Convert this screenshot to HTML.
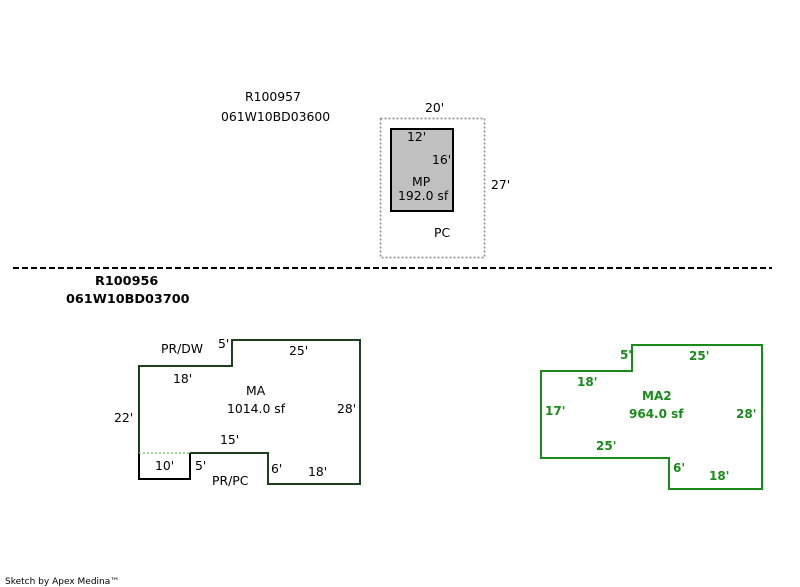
<!DOCTYPE html>
<html><head><meta charset="utf-8"><style>
html,body{margin:0;padding:0;background:#fff;width:800px;height:587px;overflow:hidden}
svg text{font-family:"DejaVu Sans","Liberation Sans",sans-serif;font-size:12.4px}
.g{fill:#1a8a1a;font-weight:bold;font-size:12px !important}
.b{font-weight:bold;font-size:12.8px !important}
</style></head><body>
<svg width="800" height="587" viewBox="0 0 800 587" xmlns="http://www.w3.org/2000/svg">
<text x="245" y="101">R100957</text>
<text x="221" y="121">061W10BD03600</text>
<rect x="380.5" y="118.5" width="104" height="139" fill="none" stroke="#888" stroke-width="1.5" stroke-dasharray="2,2"/>
<rect x="391" y="129" width="62" height="82" fill="#c0c0c0" stroke="#000" stroke-width="2"/>
<text x="425" y="112">20'</text>
<text x="407" y="141">12'</text>
<text x="432" y="164">16'</text>
<text x="412" y="186">MP</text>
<text x="398" y="200">192.0 sf</text>
<text x="491" y="189">27'</text>
<text x="434" y="237">PC</text>
<line x1="13" y1="268" x2="772" y2="268" stroke="#000" stroke-width="2" stroke-dasharray="6,3"/>
<text x="95" y="285" class="b">R100956</text>
<text x="66" y="303" class="b">061W10BD03700</text>
<polyline points="190,453 268,453 268,484 360,484 360,340 232,340 232,366 139,366 139,453" fill="none" stroke="#1f3d1f" stroke-width="2"/>
<polyline points="139,453 139,479 190,479 190,453" fill="none" stroke="#000" stroke-width="2"/>
<line x1="139" y1="453" x2="190" y2="453" stroke="#7ccf7c" stroke-width="1.5" stroke-dasharray="2,2"/>
<text x="161" y="353">PR/DW</text>
<text x="218" y="348">5'</text>
<text x="289" y="355">25'</text>
<text x="173" y="383">18'</text>
<text x="246" y="395">MA</text>
<text x="227" y="413">1014.0 sf</text>
<text x="337" y="413">28'</text>
<text x="114" y="422">22'</text>
<text x="220" y="444">15'</text>
<text x="155" y="470">10'</text>
<text x="195" y="470">5'</text>
<text x="271" y="473">6'</text>
<text x="308" y="476">18'</text>
<text x="212" y="485">PR/PC</text>
<polygon points="541,371 632,371 632,345 762,345 762,489 669,489 669,458 541,458" fill="none" stroke="#1a8a1a" stroke-width="2"/>
<text x="620" y="359" class="g">5'</text>
<text x="689" y="360" class="g">25'</text>
<text x="577" y="386" class="g">18'</text>
<text x="642" y="400" class="g">MA2</text>
<text x="629" y="418" class="g">964.0 sf</text>
<text x="545" y="415" class="g">17'</text>
<text x="736" y="418" class="g">28'</text>
<text x="596" y="450" class="g">25'</text>
<text x="673" y="472" class="g">6'</text>
<text x="709" y="480" class="g">18'</text>
<text x="5" y="584" style="font-size:9px">Sketch by Apex Medina™</text>
</svg>
</body></html>
